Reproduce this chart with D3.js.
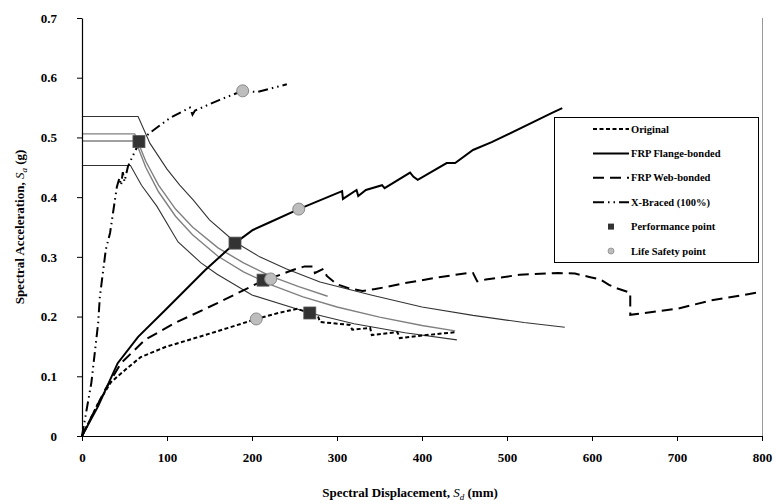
<!DOCTYPE html>
<html>
<head>
<meta charset="utf-8">
<script src="https://cdn.jsdelivr.net/npm/d3@7"></script>
<style>
  body { margin: 0; background: #fff; }
  text { font-family: "Liberation Serif", "Times New Roman", serif; font-weight: bold; }
</style>
</head>
<body>
<svg id="chart" width="775" height="504"></svg>
<script>
// ---- tick labels ----
const xTicks = [0, 100, 200, 300, 400, 500, 600, 700, 800];
const yTicks = [0, 0.1, 0.2, 0.3, 0.4, 0.5, 0.6, 0.7];

// ---- capacity curves (Sd in mm, Sa in g) ----
const originalSd = [0, 19, 34, 51, 69, 98, 133, 172, 205, 231, 253, 268, 278, 280, 315, 318, 339, 341, 371, 374, 398, 441];
const originalSa = [0, 0.055, 0.09, 0.111, 0.132, 0.149, 0.164, 0.181, 0.196, 0.206, 0.213, 0.206, 0.199, 0.191, 0.186, 0.178, 0.181, 0.169, 0.174, 0.164, 0.168, 0.174];

const flangeSd = [0, 19, 42, 66, 98, 145, 180, 201, 221, 255, 306, 307, 323, 325, 334, 353, 356, 386, 390, 395, 429, 439, 460, 482, 553, 565];
const flangeSa = [0, 0.05, 0.122, 0.166, 0.211, 0.278, 0.323, 0.345, 0.358, 0.38, 0.41, 0.397, 0.412, 0.402, 0.412, 0.42, 0.415, 0.441, 0.434, 0.429, 0.457, 0.457, 0.479, 0.492, 0.541, 0.549];

const webSd = [0, 27, 46, 74, 109, 160, 207, 248, 262, 272, 274, 284, 288, 300, 315, 330, 345, 380, 420, 455, 460, 465, 475, 515, 560, 580, 598, 610, 620, 630, 645, 645, 656, 700, 740, 798];
const webSa = [0, 0.077, 0.122, 0.161, 0.189, 0.223, 0.256, 0.278, 0.284, 0.284, 0.273, 0.28, 0.268, 0.254, 0.247, 0.243, 0.246, 0.256, 0.266, 0.273, 0.273, 0.259, 0.262, 0.27, 0.273, 0.272, 0.266, 0.262, 0.253, 0.247, 0.24, 0.203, 0.205, 0.213, 0.227, 0.241];

const bracedSd = [0, 11, 19, 21, 28, 33, 41, 44, 46, 48, 50, 54, 60, 68, 80, 104, 127, 130, 133, 162, 189, 206, 241];
const bracedSa = [0, 0.089, 0.189, 0.233, 0.312, 0.34, 0.417, 0.432, 0.42, 0.442, 0.426, 0.451, 0.47, 0.493, 0.508, 0.533, 0.55, 0.538, 0.545, 0.563, 0.578, 0.576, 0.589];

// ---- demand spectra ----
const demandASd = [0, 66, 80, 100, 115, 131, 150, 180, 209, 240, 280, 340, 400, 460, 520, 568];
const demandASa = [0.535, 0.535, 0.49, 0.447, 0.42, 0.395, 0.362, 0.325, 0.3, 0.28, 0.258, 0.236, 0.216, 0.202, 0.19, 0.182];
const demandBSd = [0, 62, 75, 90, 110, 130, 160, 190, 221, 255, 289];
const demandBSa = [0.506, 0.506, 0.46, 0.42, 0.38, 0.35, 0.315, 0.29, 0.268, 0.25, 0.234];
const demandCSd = [0, 63, 75, 90, 110, 130, 160, 190, 221, 260, 300, 350, 400, 439];
const demandCSa = [0.494, 0.494, 0.45, 0.409, 0.368, 0.337, 0.301, 0.275, 0.254, 0.233, 0.216, 0.199, 0.185, 0.176];
const demandDSd = [0, 57, 70, 88, 113, 140, 159, 200, 268, 320, 380, 441];
const demandDSa = [0.453, 0.453, 0.42, 0.385, 0.325, 0.29, 0.271, 0.236, 0.206, 0.188, 0.173, 0.161];

// ---- marked points ----
const perfSd = [67, 180, 213, 268];
const perfSa = [0.493, 0.323, 0.261, 0.206];
const lifeSd = [189, 255, 222, 205];
const lifeSa = [0.578, 0.38, 0.263, 0.196];

const legendLabels = ["Original", "FRP Flange-bonded", "FRP Web-bonded", "X-Braced (100%)", "Performance point", "Life Safety point"];

const svg = d3.select("#chart");
const x = d3.scaleLinear().domain([0, 800]).range([82, 762]);
const y = d3.scaleLinear().domain([0, 0.7]).range([436, 18]);

const zip = (a, b) => a.map((v, i) => [v, b[i]]);
const line = d3.line().x(d => x(d[0])).y(d => y(d[1]));

// right border of the plot area
svg.append("line")
  .attr("x1", 762.5).attr("x2", 762.5).attr("y1", 18).attr("y2", 436)
  .attr("stroke", "#999").attr("stroke-width", 1);

// demand spectra
const demands = [
  { pts: zip(demandASd, demandASa), color: "#333", w: 1.1 },
  { pts: zip(demandBSd, demandBSa), color: "#808080", w: 1.4 },
  { pts: zip(demandCSd, demandCSa), color: "#808080", w: 1.4 },
  { pts: zip(demandDSd, demandDSa), color: "#333", w: 1.1 }
];
svg.append("g").selectAll("path").data(demands).join("path")
  .attr("d", d => line(d.pts))
  .attr("fill", "none")
  .attr("stroke", d => d.color)
  .attr("stroke-width", d => d.w);

// capacity curves
const styles = {
  original: { dash: "4,2.5" },
  flange: { dash: null },
  web: { dash: "11,6" },
  braced: { dash: "10,4,1.5,4,1.5,4" }
};
const capacity = [
  { pts: zip(originalSd, originalSa), dash: styles.original.dash },
  { pts: zip(flangeSd, flangeSa), dash: styles.flange.dash },
  { pts: zip(webSd, webSa), dash: styles.web.dash },
  { pts: zip(bracedSd, bracedSa), dash: styles.braced.dash }
];
svg.append("g").selectAll("path").data(capacity).join("path")
  .attr("d", d => line(d.pts))
  .attr("fill", "none")
  .attr("stroke", "#000")
  .attr("stroke-width", 2)
  .attr("stroke-dasharray", d => d.dash);

// performance points
svg.append("g").selectAll("rect").data(zip(perfSd, perfSa)).join("rect")
  .attr("x", d => x(d[0]) - 6).attr("y", d => y(d[1]) - 6)
  .attr("width", 12).attr("height", 12)
  .attr("fill", "#333").attr("stroke", "#555").attr("stroke-width", 0.8);

// life safety points
svg.append("g").selectAll("circle").data(zip(lifeSd, lifeSa)).join("circle")
  .attr("cx", d => x(d[0])).attr("cy", d => y(d[1])).attr("r", 6)
  .attr("fill", "#bdbdbd").attr("stroke", "#8a8a8a").attr("stroke-width", 1);

// axes
const xAxis = svg.append("g").attr("transform", "translate(0,436)")
  .call(d3.axisBottom(x).tickValues(xTicks).tickSize(5).tickSizeOuter(0).tickPadding(12).tickFormat(d3.format("d")));
const yAxis = svg.append("g").attr("transform", "translate(82,0)")
  .call(d3.axisLeft(y).tickValues(yTicks).tickSize(5).tickSizeOuter(0).tickPadding(20)
    .tickFormat(d => d === 0 ? "0" : d3.format(".1f")(d)));
[xAxis, yAxis].forEach(g => {
  g.select(".domain").attr("stroke", "#000").attr("stroke-width", 1.2);
  g.selectAll(".tick line").attr("stroke", "#000");
  g.selectAll(".tick text").attr("fill", "#000")
    .style("font-family", "'Liberation Serif', serif").style("font-weight", "bold").style("font-size", "13px");
});

// axis titles
const xTitle = svg.append("text").attr("x", 410).attr("y", 497).attr("text-anchor", "middle").style("font-size", "13px");
xTitle.append("tspan").text("Spectral Displacement, ");
xTitle.append("tspan").text("S").style("font-style", "italic").style("font-weight", "normal");
xTitle.append("tspan").text("d").style("font-style", "italic").style("font-weight", "normal").style("font-size", "9px").attr("dy", 3);
xTitle.append("tspan").text(" (mm)").attr("dy", -3);

const yTitle = svg.append("text").attr("transform", "translate(24,227) rotate(-90)").attr("text-anchor", "middle").style("font-size", "13px");
yTitle.append("tspan").text("Spectral Acceleration, ");
yTitle.append("tspan").text("S").style("font-style", "italic").style("font-weight", "normal");
yTitle.append("tspan").text("a").style("font-style", "italic").style("font-weight", "normal").style("font-size", "9px").attr("dy", 3);
yTitle.append("tspan").text(" (g)").attr("dy", -3);

// legend
const lg = svg.append("g");
lg.append("rect").attr("x", 554.5).attr("y", 117.5).attr("width", 204).attr("height", 145)
  .attr("fill", "#fff").attr("stroke", "#000").attr("stroke-width", 1);
const rowY = i => 129 + i * 24.4;
const legendDash = [styles.original.dash, styles.flange.dash, styles.web.dash, "11,4,1.5,4,1.5,4"];
legendDash.forEach((dash, i) => {
  lg.append("line").attr("x1", 593).attr("x2", 629).attr("y1", rowY(i)).attr("y2", rowY(i))
    .attr("stroke", "#000").attr("stroke-width", 2).attr("stroke-dasharray", dash);
});
lg.append("rect").attr("x", 608).attr("y", rowY(4) - 3).attr("width", 6).attr("height", 6).attr("fill", "#333");
lg.append("circle").attr("cx", 611).attr("cy", rowY(5)).attr("r", 3)
  .attr("fill", "#bdbdbd").attr("stroke", "#8a8a8a").attr("stroke-width", 0.8);
legendLabels.forEach((t, i) => {
  lg.append("text").attr("x", 631).attr("y", rowY(i)).attr("dy", "0.35em")
    .style("font-size", "10.5px").text(t);
});
</script>
</body>
</html>
